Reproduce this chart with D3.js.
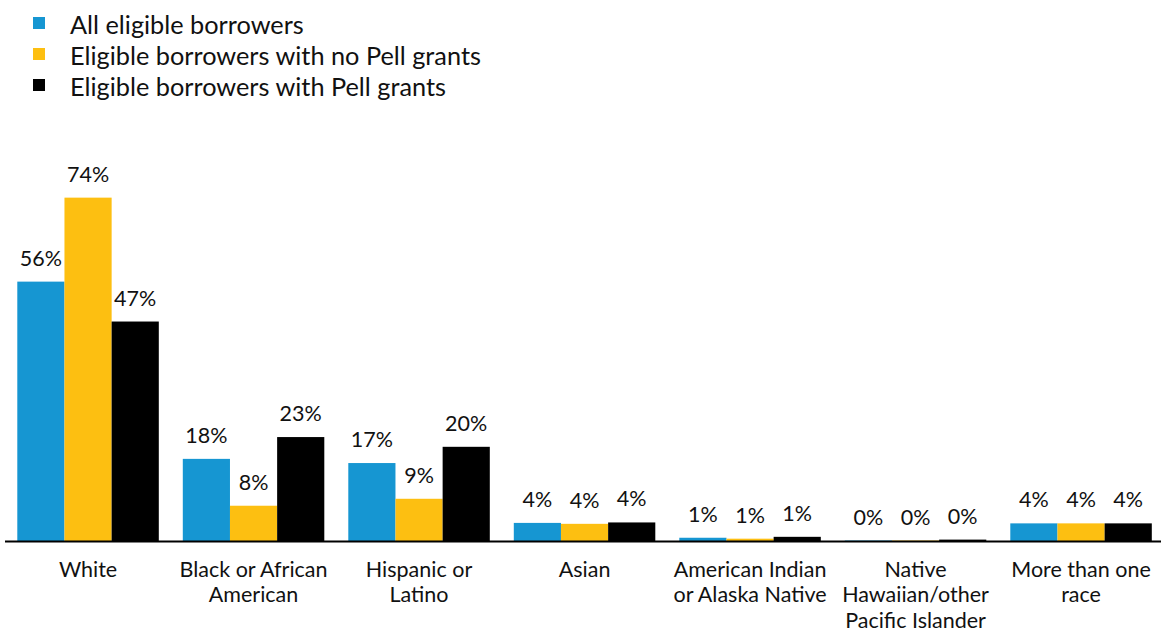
<!DOCTYPE html>
<html>
<head>
<meta charset="utf-8">
<script src="https://cdn.jsdelivr.net/npm/d3@7"></script>
<style>
  body { margin: 0; background: #fff; }
  svg { display: block; font-family: Lato, "Open Sans", sans-serif; }
</style>
</head>
<body>
<svg id="chart" width="1161" height="629"></svg>
<script>
// categories and their wrapped labels
var categories = ["White", "Black", "Hispanic", "Asian", "AIAN", "NHPI", "Multi"];
var categoryLabels = [
    ["White"],
    ["Black or African", "American"],
    ["Hispanic or", "Latino"],
    ["Asian"],
    ["American Indian", "or Alaska Native"],
    ["Native", "Hawaiian/other", "Pacific Islander"],
    ["More than one", "race"]
];

var seriesNames = ["All eligible borrowers", "Eligible borrowers with no Pell grants", "Eligible borrowers with Pell grants"];
var seriesColors = ["#1696d2", "#fdbf11", "#000000"];

// values in percent, estimated from the bars
var allBorrowers   = [55.9, 17.7, 16.8, 3.9, 0.7, 0.1, 3.8];
var noPell         = [74.0, 7.6, 9.1, 3.7, 0.5, 0.1, 3.8];
var withPell       = [47.3, 22.4, 20.3, 4.0, 0.9, 0.3, 3.8];
var valueLabels = [
    ["56%", "18%", "17%", "4%", "1%", "0%", "4%"],
    ["74%", "8%", "9%", "4%", "1%", "0%", "4%"],
    ["47%", "23%", "20%", "4%", "1%", "0%", "4%"]
];
var series = [allBorrowers, noPell, withPell];

var svg = d3.select("#chart");

var x0 = d3.scaleBand()
    .domain(categories)
    .range([5.3, 1163.8])
    .paddingInner(0.145)
    .paddingOuter(0.0725);

var x1 = d3.scaleBand()
    .domain([0, 1, 2])
    .range([0, x0.bandwidth()]);

var y = d3.scaleLinear()
    .domain([0, 80])
    .range([541, 541 - 80 * 4.64]);

// legend
var legend = svg.append("g");
seriesNames.forEach(function(name, i) {
    var ly = 23 + i * 31;
    legend.append("rect")
        .attr("x", 33)
        .attr("y", ly - 6)
        .attr("width", 12)
        .attr("height", 12)
        .attr("fill", seriesColors[i]);
    legend.append("text")
        .attr("x", 70)
        .attr("y", ly + 11)
        .attr("font-size", 25.3)
        .attr("fill", "#111")
        .text(name);
});

// bars
var groups = svg.append("g").selectAll("g")
    .data(categories)
    .join("g")
    .attr("transform", function(d) { return "translate(" + x0(d) + ",0)"; });

groups.each(function(cat, ci) {
    var g = d3.select(this);
    series.forEach(function(vals, si) {
        g.append("rect")
            .attr("x", x1(si))
            .attr("y", y(vals[ci]))
            .attr("width", x1.bandwidth())
            .attr("height", y(0) - y(vals[ci]))
            .attr("fill", seriesColors[si]);
        g.append("text")
            .attr("x", x1(si) + x1.bandwidth() / 2)
            .attr("y", y(vals[ci]) - 16)
            .attr("text-anchor", "middle")
            .attr("font-size", 21.5)
            .attr("fill", "#111")
            .text(valueLabels[si][ci]);
    });
});

// baseline
svg.append("line")
    .attr("x1", 5)
    .attr("x2", 1161)
    .attr("y1", y(0) + 0.5)
    .attr("y2", y(0) + 0.5)
    .attr("stroke", "#000")
    .attr("stroke-width", 2);

// category labels
var xAxis = svg.append("g");
categories.forEach(function(cat, ci) {
    var t = xAxis.append("text")
        .attr("x", x0(cat) + x0.bandwidth() / 2)
        .attr("y", 577)
        .attr("text-anchor", "middle")
        .attr("font-size", 21.5)
        .attr("fill", "#111");
    categoryLabels[ci].forEach(function(line, li) {
        t.append("tspan")
            .attr("x", x0(cat) + x0.bandwidth() / 2)
            .attr("dy", li === 0 ? 0 : 25.3)
            .text(line);
    });
});
</script>
</body>
</html>
